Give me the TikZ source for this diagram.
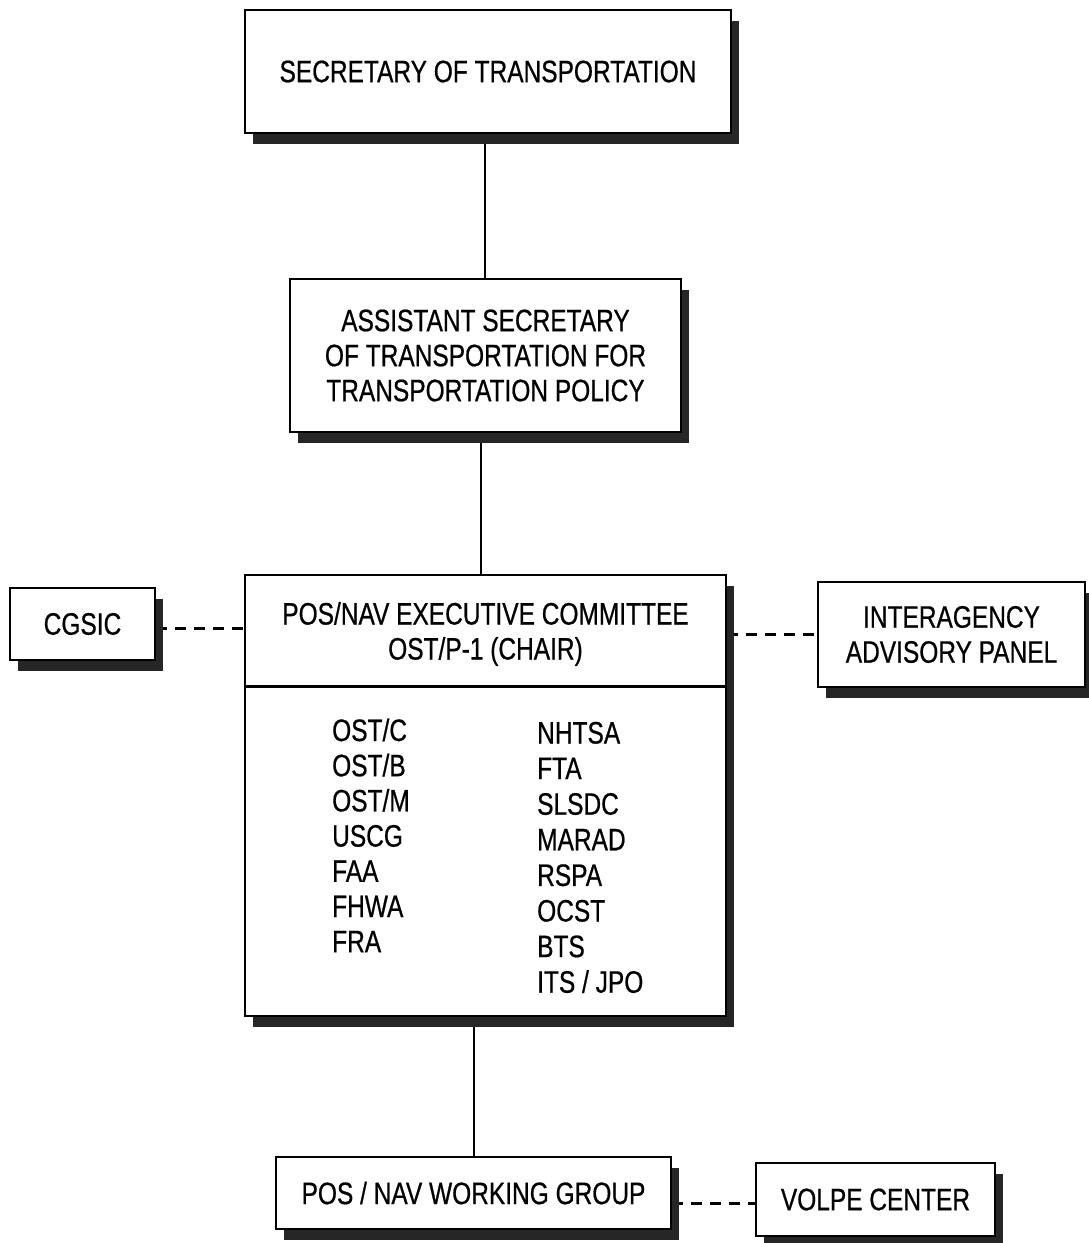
\documentclass[tikz,border=0pt]{standalone}
\usepackage{fontspec}
\setmainfont{Liberation Sans}[FakeStretch=0.79,FakeBold=0.6]
\usetikzlibrary{shadows,backgrounds}
\definecolor{shadowc}{HTML}{262626}
\tikzset{
  box/.style={draw, line width=2.8pt, fill=white, inner sep=0pt, align=center,
    font=\fontsize{31}{35}\selectfont,
    drop shadow={shadow xshift=8pt, shadow yshift=-11pt, fill=shadowc, opacity=1}},
  txt/.style={inner sep=0pt, align=center, font=\fontsize{31}{35}\selectfont},
  item/.style={inner sep=0pt, anchor=base west, font=\fontsize{31}{35}\selectfont},
  conn/.style={line width=2.8pt},
  dashln/.style={line width=3pt, dash pattern=on 11pt off 8pt}
}
\begin{document}
\begin{tikzpicture}[x=1pt,y=-1pt]
\useasboundingbox (0,0) rectangle (1089,1243);
\node[box, minimum width=486, minimum height=123] (sec) at (488,71.5) {SECRETARY OF TRANSPORTATION};
\node[box, minimum width=391, minimum height=153] (asst) at (485.5,355.5) {ASSISTANT SECRETARY\\OF TRANSPORTATION FOR\\TRANSPORTATION POLICY};
\node[box, minimum width=481, minimum height=441] (exec) at (485.5,795.5) {};
\draw[line width=2.8pt] ([yshift=-113pt]exec.north west) -- ([yshift=-113pt]exec.north east);
\node[txt] (title) at (485.5,634) {POS/NAV EXECUTIVE COMMITTEE\\OST/P-1 (CHAIR)};
\foreach \t [count=\i] in {OST/C,OST/B,OST/M,USCG,FAA,FHWA,FRA}
  \node[item] (l\i) at ({332},{741+35.2*(\i-1)}) {\t};
\foreach \t [count=\i] in {NHTSA,FTA,SLSDC,MARAD,RSPA,OCST,BTS,ITS / JPO}
  \node[item] (r\i) at ({537},{743.5+35.6*(\i-1)}) {\t};
\node[box, minimum width=145, minimum height=72] (cgsic) at (82.5,624) {CGSIC};
\node[box, minimum width=267, minimum height=105] (ia) at (951.5,634.5) {INTERAGENCY\\ADVISORY PANEL};
\node[box, minimum width=395, minimum height=72] (wg) at (473.5,1193) {POS / NAV WORKING GROUP};
\node[box, minimum width=239, minimum height=73] (volpe) at (875.5,1199.5) {VOLPE CENTER};
\begin{scope}[on background layer]
\draw[conn] ([xshift=-3pt]sec.south) -- ([xshift=-0.5pt]asst.north);
\draw[conn] ([xshift=-4.5pt]asst.south) -- ([xshift=-4.5pt]exec.north);
\draw[conn] ([xshift=-11.5pt]exec.south) -- ([xshift=0.5pt]wg.north);
\draw[dashln] ([yshift=-4pt]cgsic.east) -- ([yshift=-4pt]cgsic.east -| exec.west);
\draw[dashln] (ia.west -| exec.east) -- (ia.west);
\draw[dashln] ([yshift=-4pt]volpe.west -| wg.east) -- ([yshift=-4pt]volpe.west);
\end{scope}
\end{tikzpicture}
\end{document}
